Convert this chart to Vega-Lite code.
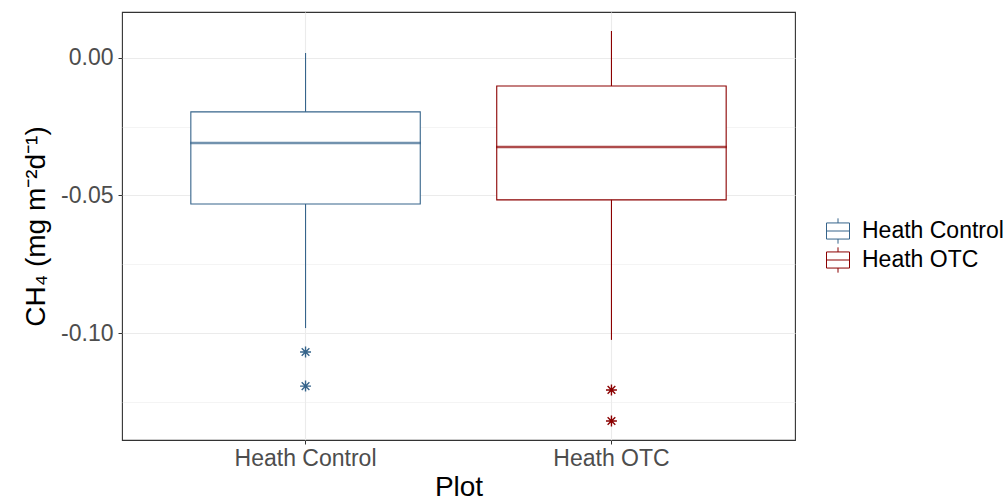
{
  "$schema": "https://vega.github.io/schema/vega-lite/v6.json",
  "autosize": {"type": "none"},
  "padding": {"left": 122, "top": 12, "right": 212, "bottom": 62},
  "width": 673,
  "height": 428,
  "datasets": {
    "box": [
      {"Plot": "Heath Control", "lower": -0.0982, "q1": -0.0531, "median": -0.0309, "q3": -0.0196, "upper": 0.0018},
      {"Plot": "Heath OTC", "lower": -0.1025, "q1": -0.0516, "median": -0.0324, "q3": -0.0102, "upper": 0.0098}
    ],
    "outliers": [
      {"Plot": "Heath Control", "value": -0.1069},
      {"Plot": "Heath Control", "value": -0.1193},
      {"Plot": "Heath OTC", "value": -0.1207},
      {"Plot": "Heath OTC", "value": -0.1320}
    ]
  },
  "encoding": {
    "x": {
      "field": "Plot", "type": "nominal", "sort": ["Heath Control", "Heath OTC"],
      "scale": {"type": "band", "paddingInner": 0.25, "paddingOuter": 0.225},
      "axis": {
        "title": "Plot", "bandPosition": 0.5, "labelAngle": 0, "grid": true,
        "gridColor": "#EBEBEB", "gridWidth": 1.1, "domain": false,
        "tickColor": "#333333", "tickSize": 4, "labelPadding": 3,
        "labelFontSize": 23, "labelColor": "#4D4D4D",
        "titleFontSize": 28, "titleFontWeight": "normal", "titleColor": "#000000", "titlePadding": 3
      }
    }
  },
  "layer": [
    {
      "data": {"name": "box"},
      "mark": {"type": "bar", "fill": "white", "stroke": null},
      "encoding": {
        "y": {
          "field": "q1", "type": "quantitative",
          "scale": {"domain": [-0.1389, 0.0167], "nice": false, "zero": false},
          "axis": {
            "title": "CH₄ (mg m⁻²d⁻¹)",
            "values": [-0.125, -0.1, -0.075, -0.05, -0.025, 0],
            "format": ".2f",
            "labelExpr": "round(datum.value*40) % 2 == 0 ? replace(datum.label, '−', '-') : ''",
            "grid": true, "gridColor": "#EBEBEB",
            "gridWidth": {"condition": {"test": "round(datum.value*40) % 2 == 0", "value": 1.1}, "value": 0.55},
            "tickOpacity": {"condition": {"test": "round(datum.value*40) % 2 == 0", "value": 1}, "value": 0},
            "domain": false, "tickColor": "#333333", "tickSize": 4, "labelPadding": 5,
            "labelFontSize": 23, "labelColor": "#4D4D4D",
            "titleFontSize": 28, "titleFontWeight": "normal", "titleColor": "#000000", "titlePadding": 10
          }
        },
        "y2": {"field": "q3"}
      }
    },
    {
      "data": {"name": "box"},
      "mark": {"type": "rule", "strokeWidth": 1.1},
      "encoding": {
        "y": {"field": "upper", "type": "quantitative"},
        "y2": {"field": "q3"},
        "color": {
          "field": "Plot", "type": "nominal",
          "scale": {"domain": ["Heath Control", "Heath OTC"], "range": ["#36648B", "#8B0000"]},
          "legend": {
            "title": null, "orient": "none", "legendX": 704, "legendY": 207,
            "symbolType": "M-1,-0.7H1V0.7H-1ZM-1,0H1M0,-0.7V-1.1M0,0.7V1.1",
            "symbolSize": 529, "symbolStrokeWidth": 1, "symbolFillColor": "white",
            "labelFontSize": 23, "labelColor": "#000000",
            "labelOffset": 12, "rowPadding": -1
          }
        }
      }
    },
    {
      "data": {"name": "box"},
      "mark": {"type": "rule", "strokeWidth": 1.1},
      "encoding": {
        "y": {"field": "q1", "type": "quantitative"},
        "y2": {"field": "lower"},
        "color": {"field": "Plot", "type": "nominal"}
      }
    },
    {
      "data": {"name": "box"},
      "mark": {"type": "bar", "filled": false, "strokeWidth": 1.1},
      "encoding": {
        "y": {"field": "q1", "type": "quantitative"},
        "y2": {"field": "q3"},
        "color": {"field": "Plot", "type": "nominal"}
      }
    },
    {
      "data": {"name": "box"},
      "mark": {"type": "tick", "filled": false, "thickness": 1.2, "strokeWidth": 1.3, "size": 229.5},
      "encoding": {
        "y": {"field": "median", "type": "quantitative"},
        "color": {"field": "Plot", "type": "nominal"}
      }
    },
    {
      "data": {"name": "outliers"},
      "mark": {"type": "point", "filled": false, "strokeWidth": 1.4, "size": 120, "opacity": 1,
               "shape": "M0,-1V1M-1,0H1M-0.7,-0.7L0.7,0.7M-0.7,0.7L0.7,-0.7"},
      "encoding": {
        "y": {"field": "value", "type": "quantitative"},
        "color": {"field": "Plot", "type": "nominal"}
      }
    }
  ],
  "config": {
    "font": "Liberation Sans",
    "view": {"stroke": "#333333", "strokeWidth": 1.1},
    "background": "white"
  }
}
